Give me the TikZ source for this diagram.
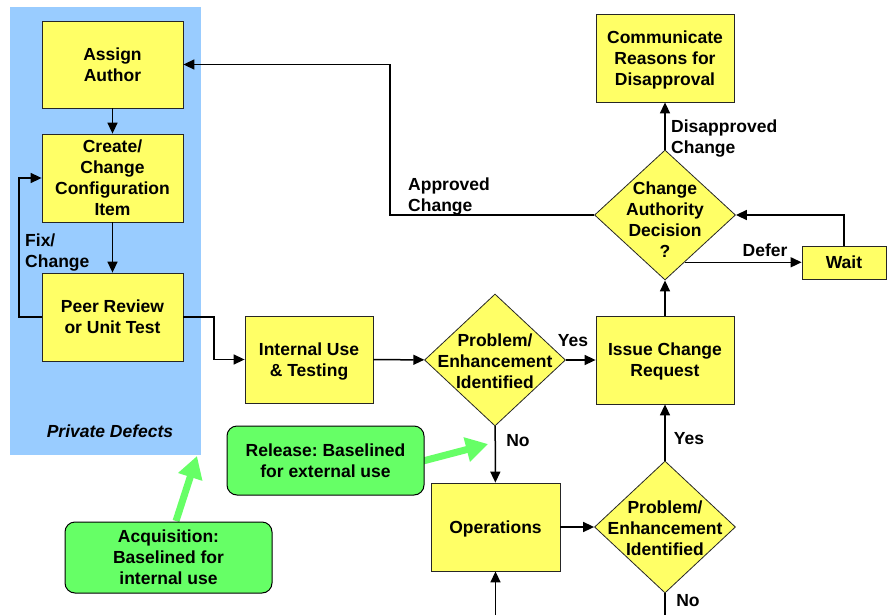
\documentclass[tikz,border=0pt]{standalone}
\usepackage{fontspec}
\setmainfont{Liberation Sans}
\usetikzlibrary{shapes.geometric,arrows.meta,calc}
\definecolor{boxyellow}{RGB}{255,255,102}
\definecolor{bgblue}{RGB}{153,204,255}
\definecolor{relgreen}{RGB}{102,255,102}
\frenchspacing
\begin{document}
\begin{tikzpicture}[x=1pt,y=-1pt,
  every node/.style={font=\fontsize{17.5}{21}\selectfont\bfseries, align=center},
  ybox/.style={draw=black!85, line width=0.8pt, fill=boxyellow, inner sep=0pt, text depth=0pt},
  ydia/.style={diamond, draw=black!85, line width=0.8pt, fill=boxyellow, inner sep=0pt},
  conn/.style={line width=1.5pt, -{Triangle[length=11pt,width=10pt]}},
  plain/.style={line width=1.5pt},
  gbox/.style={draw=black, line width=1pt, fill=relgreen, rounded corners=10pt, inner sep=0pt},
  garrow/.style={draw=relgreen, line width=7pt, -{Triangle[length=22pt,width=24pt]}},
  lbl/.style={inner sep=0pt}]
\useasboundingbox (0,0) rectangle (893,615);

% private defects area
\node[fill=bgblue, minimum width=191pt, minimum height=448pt, inner sep=0pt, anchor=north west] (priv) at (10,7) {};
\node[lbl, font=\fontsize{17.5}{21}\selectfont\bfseries\itshape] (privt) at (110,431) {Private Defects};

% boxes
\node[ybox, minimum width=141pt, minimum height=87pt] (aa) at (112.5,64.5) {Assign\\Author};
\node[ybox, minimum width=141pt, minimum height=88pt] (cc) at (112.5,178) {Create/\\Change\\Configuration\\Item};
\node[ybox, minimum width=141pt, minimum height=88pt] (pr) at (112.5,317) {Peer Review\\or Unit Test};
\node[ybox, minimum width=128pt, minimum height=87pt] (iu) at (309,359.5) {Internal Use\\\& Testing};
\node[ydia, minimum width=141pt, minimum height=132pt] (d1) at (495,360) {};
\node[lbl] (d1t) at (495,361) {Problem/\\Enhancement\\Identified};
\node[ybox, minimum width=138pt, minimum height=88pt] (icr) at (665,360) {Issue Change\\Request};
\node[ybox, minimum width=129pt, minimum height=88pt] (ops) at (495.5,527) {Operations};
\node[ydia, minimum width=141pt, minimum height=132pt] (d2) at (665,527) {};
\node[lbl] (d2t) at (665,528) {Problem/\\Enhancement\\Identified};
\node[ydia, minimum width=141pt, minimum height=130pt] (d3) at (665,215) {};
\node[lbl] (d3t) at (665,220) {Change\\Authority\\Decision\\?};
\node[ybox, minimum width=138pt, minimum height=88pt] (com) at (665,58) {Communicate\\Reasons for\\Disapproval};
\node[ybox, minimum width=84pt, minimum height=33pt] (wait) at (844,262.5) {Wait};

% connectors
\draw[conn] (aa) -- (cc);
\draw[conn] (cc) -- (pr);
\coordinate (fixc) at (19,317);
\draw[conn] (pr.west) -- (fixc) |- (cc.west);
\node[lbl, anchor=west, align=left] (fixl) at (25,253) {Fix/\\Change};
\coordinate (prmid) at (214,317);
\draw[conn] (pr.east) -- (prmid) |- (iu.west);
\draw[conn] (iu) -- (d1);
\draw[conn] (d1) -- (icr);
\node[lbl] (yes1) at (573,341) {Yes};
\draw[conn] (d1) -- (ops);
\node[lbl] (no1) at (518,441) {No};
\draw[conn] (ops) -- (d2);
\draw[conn] (d2) -- (icr);
\node[lbl] (yes2) at (689,439) {Yes};
\coordinate (botd2) at (665,615);
\draw[plain] (d2.south) -- (botd2);
\node[lbl] (no2) at (688,601) {No};
\coordinate (botops) at (495.5,615);
\draw[conn] (botops) -- (ops.south);
\draw[conn] (icr) -- (d3);
\draw[conn] (d3) -- (com);
\node[lbl, anchor=west, align=left] (disl) at (671,139) {Disapproved\\Change};
\coordinate (appc) at (390,215);
\draw[conn] (d3.west) -- (appc) |- (aa.east);
\node[lbl, anchor=west, align=left] (appl) at (408,196.5) {Approved\\Change};
\coordinate (defs) at ($(d3.east)!0.723!(d3.south)$);
\draw[conn] (defs) -- (defs -| wait.west);
\node[lbl] (defl) at (765,250) {Defer};
\draw[conn] (wait.north) |- (d3.east);

% green callouts
\coordinate (relbase) at (423,461);
\coordinate (reltip) at (488,444);
\draw[garrow] (relbase) -- (reltip);
\coordinate (acqbase) at (176,521);
\coordinate (acqtip) at (197,456);
\draw[garrow] (acqbase) -- (acqtip);
\node[gbox, minimum width=197pt, minimum height=69pt] (rel) at (325.5,460.5) {Release: Baselined\\for external use};
\node[gbox, minimum width=207pt, minimum height=71pt] (acq) at (168.5,557.5) {Acquisition:\\Baselined for\\internal use};
\end{tikzpicture}
\end{document}
